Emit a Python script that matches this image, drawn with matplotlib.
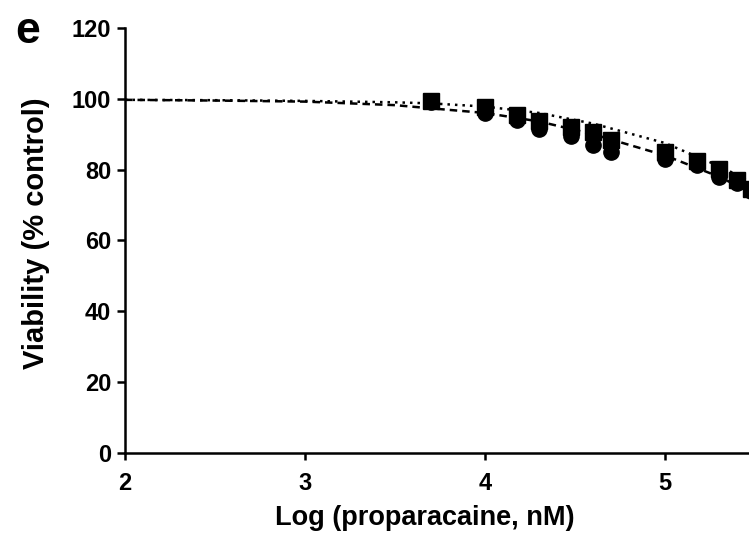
import matplotlib.pyplot as plt

plt.rcParams['font.family'] = ['Liberation Sans', 'DejaVu Sans']
plt.rcParams['font.weight'] = 'bold'

# measured points, log concentration (nM)
log_conc = [3.7, 4.0, 4.18, 4.3, 4.48, 4.6, 4.7, 5.0, 5.18, 5.3, 5.4, 5.48]
viab_sq = [99.3, 97.6, 95.3, 93.6, 92.0, 90.5, 88.5, 85.0, 82.3, 80.3, 77.0, 74.6]
viab_ci = [99.0, 96.0, 94.0, 91.6, 89.6, 87.0, 85.0, 83.0, 81.4, 78.0, 76.3, 74.0]

# fitted curves
fit_x = [2.0, 2.5, 3.0, 3.5, 3.7, 4.0, 4.3, 4.6, 5.0, 5.3, 5.5, 5.7]
fit_sq = [99.7, 99.6, 99.4, 99.0, 98.7, 97.8, 96.0, 93.0, 87.5, 81.0, 76.0, 71.0]
fit_ci = [99.7, 99.5, 99.2, 98.2, 97.3, 96.0, 93.6, 90.0, 84.0, 78.0, 73.0, 68.0]

fig = plt.figure(figsize=(7.49, 5.34), dpi=100)
# axis runs past the right edge like the cropped original
ax = fig.add_axes([0.1669, 0.1517, 1.2016, 0.796])

ax.plot(fit_x, fit_ci, color='black', lw=1.8, ls=(0, (3, 2)))
ax.plot(fit_x, fit_sq, color='black', lw=1.8, ls=(0, (1, 2)))
ax.plot(log_conc, viab_ci, 'o', color='black', ms=11, clip_on=False)
ax.plot(log_conc, viab_sq, 's', color='black', ms=11, clip_on=False)

ax.set_xlim(2, 7)
ax.set_ylim(0, 120)
ax.set_xticks([2, 3, 4, 5])
ax.set_yticks([0, 20, 40, 60, 80, 100, 120])
ax.spines['top'].set_visible(False)
ax.spines['right'].set_visible(False)
for s in ['left', 'bottom']:
    ax.spines[s].set_linewidth(1.8)
ax.tick_params(axis='x', width=1.8, length=5, labelsize=17, pad=9)
ax.tick_params(axis='y', width=1.8, length=6, labelsize=17, pad=4)

ax.set_xlabel('Log (proparacaine, nM)', fontsize=19.5, fontweight='bold')
ax.xaxis.set_label_coords(0.333, -0.123)
ax.set_ylabel('Viability (% control)', fontsize=21, fontweight='bold')
ax.yaxis.set_label_coords(-0.083, 0.518)

fig.text(0.02, 0.92, 'e', fontsize=32, fontweight='bold')

fig.savefig('out.png', dpi=100)
